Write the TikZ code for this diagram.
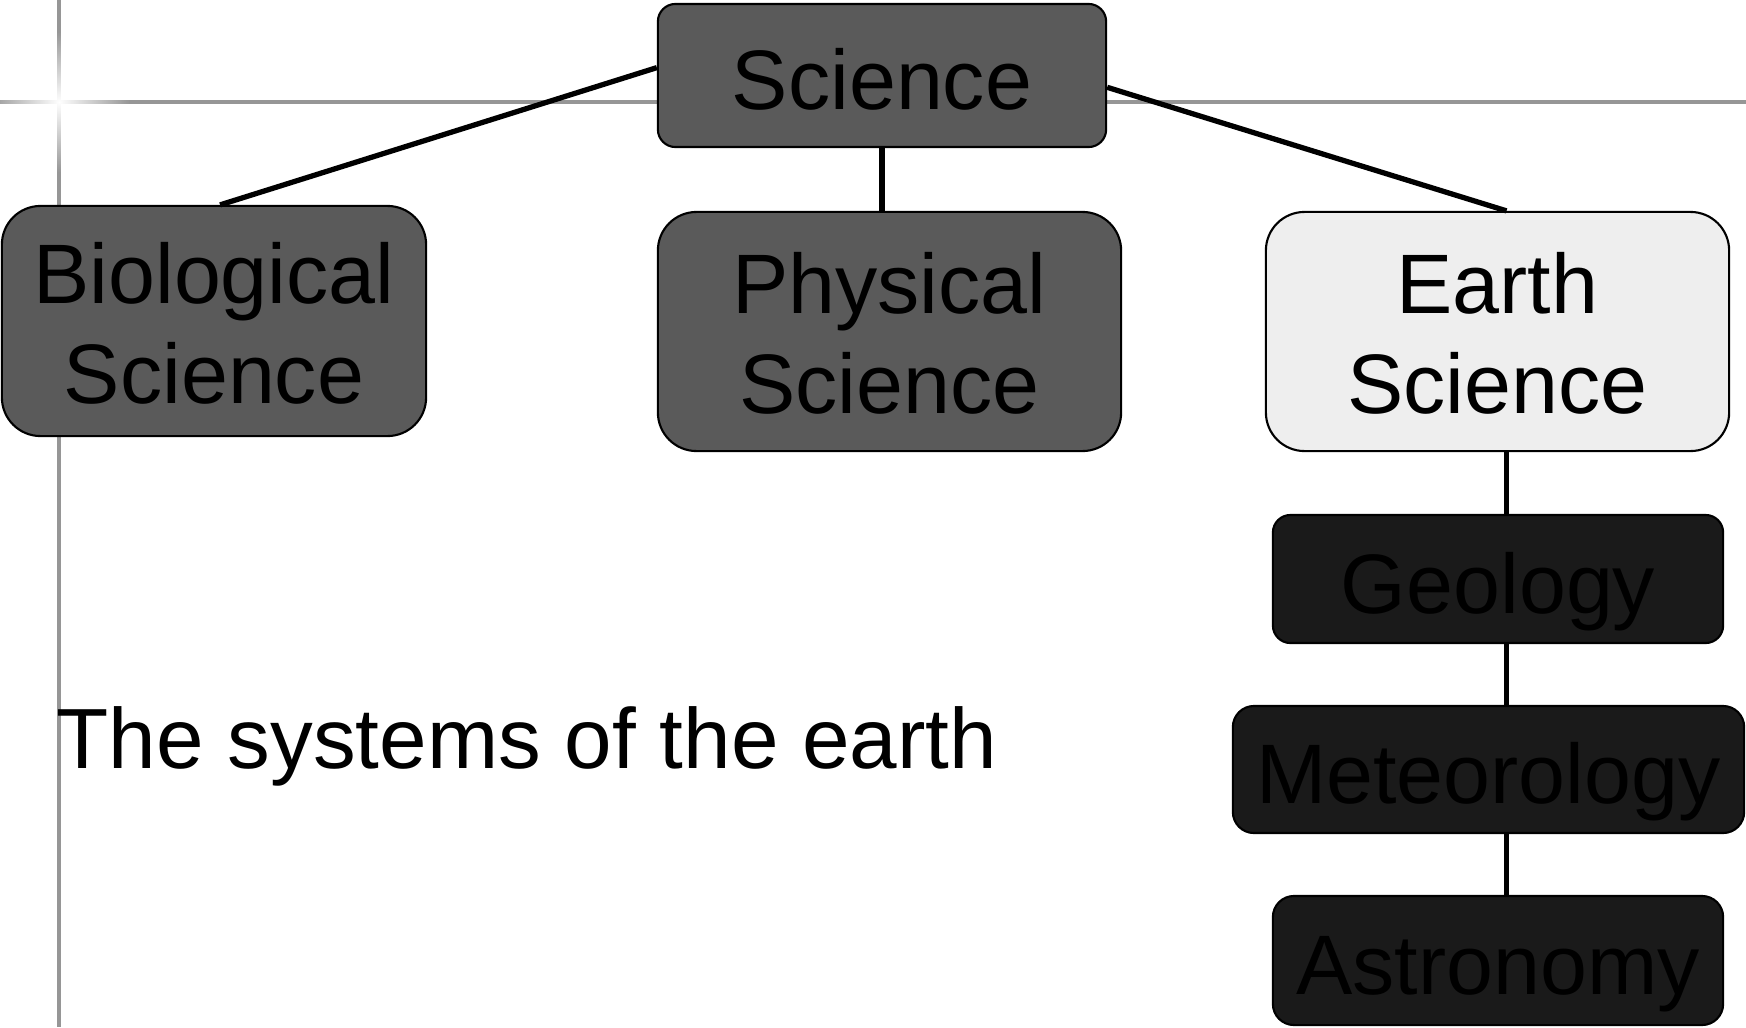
\documentclass[tikz,border=0pt]{standalone}
\usepackage{fontspec}
\setmainfont{Liberation Sans}
\usetikzlibrary{fadings}
\definecolor{midgray}{RGB}{90,90,90}
\definecolor{darkbox}{RGB}{26,26,26}
\definecolor{palebox}{RGB}{238,238,238}
\definecolor{rulegray}{RGB}{150,150,150}
\tikzfading[name=glowfade, inner color=transparent!0, outer color=transparent!100]
\newcommand{\bigtext}{\fontsize{24}{28.45}\selectfont}

\begin{document}
\begin{tikzpicture}[x=0.01cm,y=-0.01cm,
    box/.style={draw=black,line width=0.6pt,rounded corners=#1,align=center,
                inner sep=0pt,font=\bigtext},
    box/.default=5pt,
    oneline/.style={text height=0.68cm,text depth=0cm},
    twoline/.style={text height=1.64cm,text depth=0cm},
    link/.style={line width=1.5pt,black}]
  \useasboundingbox (0,0) rectangle (1746,1027);
  % slide rules and their glow
  \draw[rulegray,line width=1.1pt] (0,102) -- (1746,102);
  \draw[rulegray,line width=1.1pt] (59,0) -- (59,1027);
  \coordinate (glow) at (59,102);
  \fill[white,path fading=glowfade] (glow) circle (70);

  \node[box,oneline,fill=midgray,minimum width=4.48cm,minimum height=1.43cm]
    (science) at (882,75.5) {Science};
  \node[box=11pt,twoline,fill=midgray,minimum width=4.24cm,minimum height=2.30cm]
    (bio) at (214,321) {Biological\\Science};
  \node[box=11pt,twoline,fill=midgray,minimum width=4.63cm,minimum height=2.39cm]
    (phys) at (889.5,331.5) {Physical\\Science};
  \node[box=11pt,twoline,fill=palebox,minimum width=4.63cm,minimum height=2.39cm]
    (earth) at (1497.5,331.5) {Earth\\Science};
  \node[box,oneline,fill=darkbox,minimum width=4.50cm,minimum height=1.28cm]
    (geo) at (1498,579) {Geology};
  \node[box=6pt,oneline,fill=darkbox,minimum width=5.11cm,minimum height=1.27cm]
    (met) at (1488.5,769.5) {Meteorology};
  \node[box=6pt,oneline,fill=darkbox,minimum width=4.50cm,minimum height=1.29cm]
    (astro) at (1498,960.5) {Astronomy};

  \node[anchor=base west,inner sep=0pt,font=\fontsize{24.3}{29}\selectfont]
    (caption) at (56,768) {The systems of the earth};

  % the earth branch runs a little right of the box centres
  \coordinate (spine) at (1506.5,0);
  \draw[link] (science.178) -- (bio.87);
  \draw[link] (science.south) -- (science.south |- phys.north);
  \draw[link] (science.-3) -- (earth.north -| spine);
  \draw[link] (earth.south -| spine) -- (geo.north -| spine);
  \draw[link] (geo.south -| spine) -- (met.north -| spine);
  \draw[link] (met.south -| spine) -- (astro.north -| spine);
\end{tikzpicture}
\end{document}
